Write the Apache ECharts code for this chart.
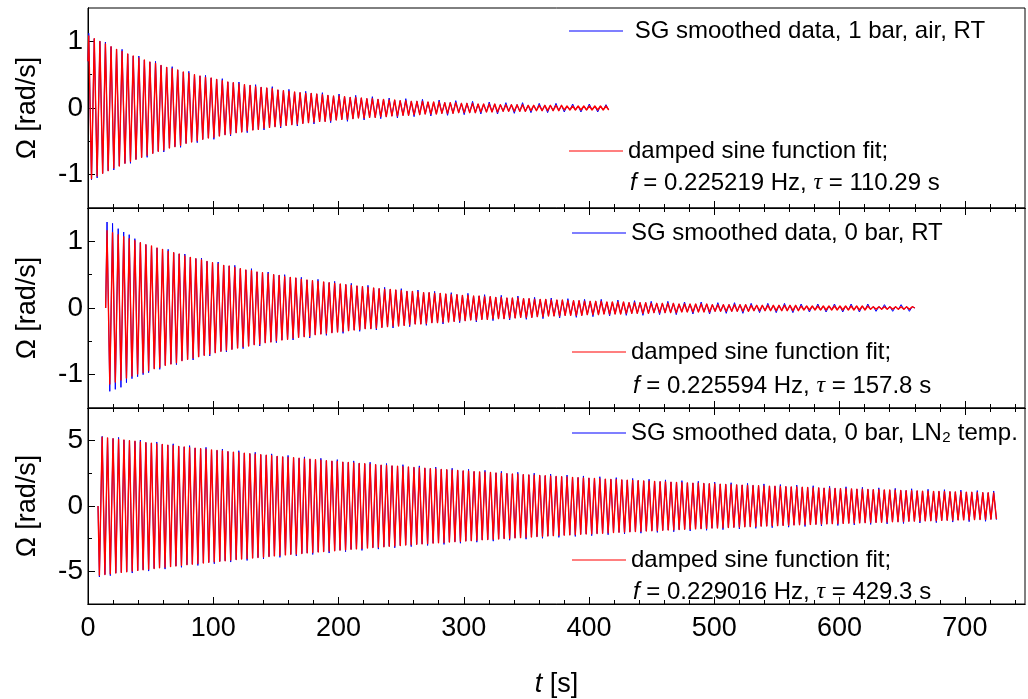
<!DOCTYPE html>
<html>
<head>
<meta charset="utf-8">
<script src="https://cdn.jsdelivr.net/npm/echarts@6.0.0/dist/echarts.min.js"></script>
<style>
html, body { margin: 0; padding: 0; background: #fff; }
#chart-container { width: 1028px; height: 699px; }
</style>
</head>
<body>
<div id="chart-container"></div>
<script>
var dom = document.getElementById('chart-container');
var myChart = echarts.init(dom, null, {
  renderer: 'canvas',
  useDirtyRect: false,
});

var option;

// tick positions
const xMajor = [0, 100, 200, 300, 400, 500, 600, 700];
const xMinor = [20, 40, 60, 80, 120, 140, 160, 180, 220, 240, 260, 280, 320, 340, 360, 380,
  420, 440, 460, 480, 520, 540, 560, 580, 620, 640, 660, 680, 720, 740];
const yMajorRT = [-1, 0, 1];
const yMinorRT = [-0.5, 0.5];
const yMajorLN = [-5, 0, 5];
const yMinorLN = [-2.5, 2.5];

// panel 1: 1 bar, air, RT  (turning points of the oscillation, t in s)
const tAir = [0, 0.6, 2.8, 5.0, 7.3, 9.5, 11.7, 13.9, 16.1, 18.4, 20.6,
  22.8, 25.0, 27.2, 29.5, 31.7, 33.9, 36.1, 38.3, 40.6, 42.8,
  45.0, 47.2, 49.4, 51.7, 53.9, 56.1, 58.3, 60.5, 62.8, 65.0,
  67.2, 69.4, 71.6, 73.9, 76.1, 78.3, 80.5, 82.7, 85.0, 87.2,
  89.4, 91.6, 93.8, 96.1, 98.3, 100.5, 102.7, 104.9, 107.2, 109.4,
  111.6, 113.8, 116.0, 118.3, 120.5, 122.7, 124.9, 127.1, 129.4, 131.6,
  133.8, 136.0, 138.2, 140.5, 142.7, 144.9, 147.1, 149.3, 151.6, 153.8,
  156.0, 158.2, 160.4, 162.7, 164.9, 167.1, 169.3, 171.5, 173.8, 176.0,
  178.2, 180.4, 182.6, 184.9, 187.1, 189.3, 191.5, 193.7, 196.0, 198.2,
  200.4, 202.6, 204.8, 207.1, 209.3, 211.5, 213.7, 215.9, 218.2, 220.4,
  222.6, 224.8, 227.0, 229.3, 231.5, 233.7, 235.9, 238.1, 240.4, 242.6,
  244.8, 247.0, 249.2, 251.5, 253.7, 255.9, 258.1, 260.3, 262.6, 264.8,
  267.0, 269.2, 271.4, 273.7, 275.9, 278.1, 280.3, 282.5, 284.8, 287.0,
  289.2, 291.4, 293.6, 295.9, 298.1, 300.3, 302.5, 304.7, 307.0, 309.2,
  311.4, 313.6, 315.8, 318.1, 320.3, 322.5, 324.7, 326.9, 329.2, 331.4,
  333.6, 335.8, 338.0, 340.3, 342.5, 344.7, 346.9, 349.1, 351.4, 353.6,
  355.8, 358.0, 360.2, 362.5, 364.7, 366.9, 369.1, 371.3, 373.6, 375.8,
  378.0, 380.2, 382.4, 384.7, 386.9, 389.1, 391.3, 393.5, 395.8, 398.0,
  400.2, 402.4, 404.6, 406.9, 409.1, 411.3, 413.5, 415.7];
const fitAir = [0.70, 1.08, -1.06, 1.04, -1.02, 1.00, -0.98, 0.96, -0.94, 0.92, -0.90,
  0.88, -0.87, 0.85, -0.83, 0.81, -0.80, 0.78, -0.77, 0.75, -0.74,
  0.72, -0.71, 0.69, -0.68, 0.67, -0.65, 0.64, -0.63, 0.61, -0.60,
  0.59, -0.58, 0.57, -0.56, 0.54, -0.53, 0.52, -0.51, 0.50, -0.49,
  0.48, -0.47, 0.46, -0.45, 0.45, -0.44, 0.43, -0.42, 0.41, -0.40,
  0.39, -0.39, 0.38, -0.37, 0.36, -0.36, 0.35, -0.34, 0.34, -0.33,
  0.32, -0.32, 0.31, -0.30, 0.30, -0.29, 0.29, -0.28, 0.27, -0.27,
  0.26, -0.26, 0.25, -0.25, 0.24, -0.24, 0.23, -0.23, 0.22, -0.22,
  0.22, -0.21, 0.21, -0.20, 0.20, -0.20, 0.19, -0.19, 0.18, -0.18,
  0.18, -0.17, 0.17, -0.17, 0.16, -0.16, 0.16, -0.15, 0.15, -0.15,
  0.14, -0.14, 0.14, -0.14, 0.13, -0.13, 0.13, -0.13, 0.12, -0.12,
  0.12, -0.12, 0.11, -0.11, 0.11, -0.11, 0.10, -0.10, 0.10, -0.10,
  0.10, -0.09, 0.09, -0.09, 0.09, -0.09, 0.09, -0.08, 0.08, -0.08,
  0.08, -0.08, 0.08, -0.07, 0.07, -0.07, 0.07, -0.07, 0.07, -0.07,
  0.06, -0.06, 0.06, -0.06, 0.06, -0.06, 0.06, -0.06, 0.05, -0.05,
  0.05, -0.05, 0.05, -0.05, 0.05, -0.05, 0.05, -0.05, 0.04, -0.04,
  0.04, -0.04, 0.04, -0.04, 0.04, -0.04, 0.04, -0.04, 0.04, -0.04,
  0.04, -0.03, 0.03, -0.03, 0.03, -0.03, 0.03, -0.03, 0.03, -0.03,
  0.03, -0.03, 0.03, -0.03, 0.03, -0.03, 0.03, -0.03];
const dataAir = [0.70, 1.12, -1.08, 1.04, -1.05, 1.00, -0.98, 0.99, -0.94, 0.92, -0.93,
  0.88, -0.87, 0.88, -0.83, 0.81, -0.83, 0.78, -0.77, 0.78, -0.74,
  0.72, -0.74, 0.69, -0.68, 0.70, -0.65, 0.64, -0.66, 0.61, -0.60,
  0.62, -0.58, 0.57, -0.59, 0.54, -0.53, 0.55, -0.51, 0.50, -0.52,
  0.48, -0.47, 0.49, -0.45, 0.45, -0.47, 0.43, -0.42, 0.44, -0.40,
  0.39, -0.42, 0.38, -0.37, 0.39, -0.36, 0.35, -0.37, 0.34, -0.33,
  0.35, -0.32, 0.31, -0.33, 0.30, -0.29, 0.32, -0.28, 0.27, -0.30,
  0.26, -0.26, 0.28, -0.25, 0.24, -0.27, 0.23, -0.23, 0.25, -0.22,
  0.22, -0.24, 0.21, -0.20, 0.23, -0.20, 0.19, -0.22, 0.18, -0.18,
  0.21, -0.17, 0.17, -0.20, 0.16, -0.16, 0.19, -0.15, 0.15, -0.18,
  0.14, -0.14, 0.17, -0.14, 0.13, -0.16, 0.13, -0.13, 0.15, -0.12,
  0.12, -0.15, 0.11, -0.11, 0.14, -0.11, 0.10, -0.13, 0.10, -0.10,
  0.13, -0.09, 0.09, -0.12, 0.09, -0.09, 0.12, -0.08, 0.08, -0.11,
  0.08, -0.08, 0.11, -0.07, 0.07, -0.10, 0.07, -0.07, 0.10, -0.07,
  0.06, -0.09, 0.06, -0.06, 0.09, -0.06, 0.06, -0.09, 0.05, -0.05,
  0.08, -0.05, 0.05, -0.08, 0.05, -0.05, 0.08, -0.05, 0.04, -0.07,
  0.04, -0.04, 0.07, -0.04, 0.04, -0.07, 0.04, -0.04, 0.07, -0.04,
  0.04, -0.06, 0.03, -0.03, 0.06, -0.03, 0.03, -0.06, 0.03, -0.03,
  0.06, -0.03, 0.03, -0.06, 0.03, -0.03, 0.05, -0.03];

// panel 2: 0 bar, RT
const tVac = [14.1,
  15.2, 17.4, 19.6, 21.8, 24.1, 26.3, 28.5, 30.7, 32.9, 35.1,
  37.4, 39.6, 41.8, 44.0, 46.2, 48.4, 50.7, 52.9, 55.1, 57.3,
  59.5, 61.7, 64.0, 66.2, 68.4, 70.6, 72.8, 75.0, 77.3, 79.5,
  81.7, 83.9, 86.1, 88.3, 90.6, 92.8, 95.0, 97.2, 99.4, 101.6,
  103.9, 106.1, 108.3, 110.5, 112.7, 114.9, 117.2, 119.4, 121.6, 123.8,
  126.0, 128.2, 130.5, 132.7, 134.9, 137.1, 139.3, 141.5, 143.8, 146.0,
  148.2, 150.4, 152.6, 154.8, 157.0, 159.3, 161.5, 163.7, 165.9, 168.1,
  170.3, 172.6, 174.8, 177.0, 179.2, 181.4, 183.6, 185.9, 188.1, 190.3,
  192.5, 194.7, 196.9, 199.2, 201.4, 203.6, 205.8, 208.0, 210.2, 212.5,
  214.7, 216.9, 219.1, 221.3, 223.5, 225.8, 228.0, 230.2, 232.4, 234.6,
  236.8, 239.1, 241.3, 243.5, 245.7, 247.9, 250.1, 252.4, 254.6, 256.8,
  259.0, 261.2, 263.4, 265.7, 267.9, 270.1, 272.3, 274.5, 276.7, 279.0,
  281.2, 283.4, 285.6, 287.8, 290.0, 292.3, 294.5, 296.7, 298.9, 301.1,
  303.3, 305.5, 307.8, 310.0, 312.2, 314.4, 316.6, 318.8, 321.1, 323.3,
  325.5, 327.7, 329.9, 332.1, 334.4, 336.6, 338.8, 341.0, 343.2, 345.4,
  347.7, 349.9, 352.1, 354.3, 356.5, 358.7, 361.0, 363.2, 365.4, 367.6,
  369.8, 372.0, 374.3, 376.5, 378.7, 380.9, 383.1, 385.3, 387.6, 389.8,
  392.0, 394.2, 396.4, 398.6, 400.9, 403.1, 405.3, 407.5, 409.7, 411.9,
  414.2, 416.4, 418.6, 420.8, 423.0, 425.2, 427.5, 429.7, 431.9, 434.1,
  436.3, 438.5, 440.7, 443.0, 445.2, 447.4, 449.6, 451.8, 454.0, 456.3,
  458.5, 460.7, 462.9, 465.1, 467.3, 469.6, 471.8, 474.0, 476.2, 478.4,
  480.6, 482.9, 485.1, 487.3, 489.5, 491.7, 493.9, 496.2, 498.4, 500.6,
  502.8, 505.0, 507.2, 509.5, 511.7, 513.9, 516.1, 518.3, 520.5, 522.8,
  525.0, 527.2, 529.4, 531.6, 533.8, 536.1, 538.3, 540.5, 542.7, 544.9,
  547.1, 549.4, 551.6, 553.8, 556.0, 558.2, 560.4, 562.7, 564.9, 567.1,
  569.3, 571.5, 573.7, 575.9, 578.2, 580.4, 582.6, 584.8, 587.0, 589.2,
  591.5, 593.7, 595.9, 598.1, 600.3, 602.5, 604.8, 607.0, 609.2, 611.4,
  613.6, 615.8, 618.1, 620.3, 622.5, 624.7, 626.9, 629.1, 631.4, 633.6,
  635.8, 638.0, 640.2, 642.4, 644.7, 646.9, 649.1, 651.3, 653.5, 655.7,
  658.0, 660.1];
const fitVac = [0.00,
  1.16, -1.14, 1.13, -1.11, 1.10, -1.08, 1.07, -1.05, 1.04, -1.02,
  1.01, -0.99, 0.98, -0.97, 0.95, -0.94, 0.93, -0.91, 0.90, -0.89,
  0.88, -0.86, 0.85, -0.84, 0.83, -0.82, 0.81, -0.79, 0.78, -0.77,
  0.76, -0.75, 0.74, -0.73, 0.72, -0.71, 0.70, -0.69, 0.68, -0.67,
  0.66, -0.65, 0.64, -0.63, 0.63, -0.62, 0.61, -0.60, 0.59, -0.58,
  0.57, -0.57, 0.56, -0.55, 0.54, -0.54, 0.53, -0.52, 0.51, -0.51,
  0.50, -0.49, 0.49, -0.48, 0.47, -0.47, 0.46, -0.45, 0.45, -0.44,
  0.43, -0.43, 0.42, -0.42, 0.41, -0.40, 0.40, -0.39, 0.39, -0.38,
  0.38, -0.37, 0.37, -0.36, 0.36, -0.35, 0.35, -0.34, 0.34, -0.33,
  0.33, -0.32, 0.32, -0.31, 0.31, -0.31, 0.30, -0.30, 0.29, -0.29,
  0.28, -0.28, 0.28, -0.27, 0.27, -0.27, 0.26, -0.26, 0.25, -0.25,
  0.25, -0.24, 0.24, -0.24, 0.23, -0.23, 0.23, -0.22, 0.22, -0.22,
  0.22, -0.21, 0.21, -0.21, 0.20, -0.20, 0.20, -0.19, 0.19, -0.19,
  0.19, -0.18, 0.18, -0.18, 0.18, -0.17, 0.17, -0.17, 0.17, -0.16,
  0.16, -0.16, 0.16, -0.16, 0.15, -0.15, 0.15, -0.15, 0.15, -0.14,
  0.14, -0.14, 0.14, -0.14, 0.13, -0.13, 0.13, -0.13, 0.13, -0.12,
  0.12, -0.12, 0.12, -0.12, 0.12, -0.11, 0.11, -0.11, 0.11, -0.11,
  0.11, -0.11, 0.10, -0.10, 0.10, -0.10, 0.10, -0.10, 0.10, -0.09,
  0.09, -0.09, 0.09, -0.09, 0.09, -0.09, 0.09, -0.08, 0.08, -0.08,
  0.08, -0.08, 0.08, -0.08, 0.08, -0.08, 0.07, -0.07, 0.07, -0.07,
  0.07, -0.07, 0.07, -0.07, 0.07, -0.07, 0.06, -0.06, 0.06, -0.06,
  0.06, -0.06, 0.06, -0.06, 0.06, -0.06, 0.06, -0.06, 0.05, -0.05,
  0.05, -0.05, 0.05, -0.05, 0.05, -0.05, 0.05, -0.05, 0.05, -0.05,
  0.05, -0.05, 0.04, -0.04, 0.04, -0.04, 0.04, -0.04, 0.04, -0.04,
  0.04, -0.04, 0.04, -0.04, 0.04, -0.04, 0.04, -0.04, 0.04, -0.04,
  0.03, -0.03, 0.03, -0.03, 0.03, -0.03, 0.03, -0.03, 0.03, -0.03,
  0.03, -0.03, 0.03, -0.03, 0.03, -0.03, 0.03, -0.03, 0.03, -0.03,
  0.03, -0.03, 0.03, -0.03, 0.03, -0.02, 0.02, -0.02, 0.02, -0.02,
  0.02, -0.02, 0.02, -0.02, 0.02, -0.02, 0.02, -0.02, 0.02, -0.02,
  0.02, 0.00];
const dataVac = [0.00,
  1.29, -1.25, 1.27, -1.22, 1.19, -1.19, 1.14, -1.12, 1.10, -1.06,
  1.04, -1.03, 0.98, -1.00, 0.95, -0.97, 0.93, -0.91, 0.90, -0.92,
  0.88, -0.86, 0.88, -0.84, 0.83, -0.85, 0.81, -0.79, 0.81, -0.77,
  0.76, -0.78, 0.74, -0.73, 0.75, -0.71, 0.70, -0.72, 0.68, -0.67,
  0.69, -0.65, 0.64, -0.66, 0.63, -0.62, 0.64, -0.60, 0.59, -0.61,
  0.57, -0.57, 0.59, -0.55, 0.54, -0.57, 0.53, -0.52, 0.54, -0.51,
  0.50, -0.52, 0.49, -0.48, 0.50, -0.47, 0.46, -0.48, 0.45, -0.44,
  0.46, -0.43, 0.42, -0.45, 0.41, -0.40, 0.43, -0.39, 0.39, -0.41,
  0.38, -0.37, 0.40, -0.36, 0.36, -0.38, 0.35, -0.34, 0.37, -0.33,
  0.33, -0.35, 0.32, -0.31, 0.34, -0.31, 0.30, -0.33, 0.29, -0.29,
  0.31, -0.28, 0.28, -0.30, 0.27, -0.27, 0.29, -0.26, 0.25, -0.28,
  0.25, -0.24, 0.27, -0.24, 0.23, -0.26, 0.23, -0.22, 0.25, -0.22,
  0.22, -0.24, 0.21, -0.21, 0.23, -0.20, 0.20, -0.22, 0.19, -0.19,
  0.22, -0.18, 0.18, -0.21, 0.18, -0.17, 0.20, -0.17, 0.17, -0.19,
  0.16, -0.16, 0.19, -0.16, 0.15, -0.18, 0.15, -0.15, 0.18, -0.14,
  0.14, -0.17, 0.14, -0.14, 0.16, -0.13, 0.13, -0.16, 0.13, -0.12,
  0.15, -0.12, 0.12, -0.15, 0.12, -0.11, 0.14, -0.11, 0.11, -0.14,
  0.11, -0.11, 0.13, -0.10, 0.10, -0.13, 0.10, -0.10, 0.13, -0.09,
  0.09, -0.12, 0.09, -0.09, 0.12, -0.09, 0.09, -0.11, 0.08, -0.08,
  0.11, -0.08, 0.08, -0.11, 0.08, -0.08, 0.10, -0.07, 0.07, -0.10,
  0.07, -0.07, 0.10, -0.07, 0.07, -0.10, 0.06, -0.06, 0.09, -0.06,
  0.06, -0.09, 0.06, -0.06, 0.09, -0.06, 0.06, -0.09, 0.05, -0.05,
  0.08, -0.05, 0.05, -0.08, 0.05, -0.05, 0.08, -0.05, 0.05, -0.08,
  0.05, -0.05, 0.07, -0.04, 0.04, -0.07, 0.04, -0.04, 0.07, -0.04,
  0.04, -0.07, 0.04, -0.04, 0.07, -0.04, 0.04, -0.07, 0.04, -0.04,
  0.06, -0.03, 0.03, -0.06, 0.03, -0.03, 0.06, -0.03, 0.03, -0.06,
  0.03, -0.03, 0.06, -0.03, 0.03, -0.06, 0.03, -0.03, 0.06, -0.03,
  0.03, -0.06, 0.03, -0.03, 0.06, -0.02, 0.02, -0.05, 0.02, -0.02,
  0.05, -0.02, 0.02, -0.05, 0.02, -0.02, 0.05, -0.02, 0.02, -0.05,
  0.02, 0.00];

// panel 3: 0 bar, LN2 temperature
const tLN = [8.0,
  9.1, 11.3, 13.5, 15.6, 17.8, 20.0, 22.2, 24.4, 26.6, 28.7,
  30.9, 33.1, 35.3, 37.5, 39.7, 41.8, 44.0, 46.2, 48.4, 50.6,
  52.8, 54.9, 57.1, 59.3, 61.5, 63.7, 65.9, 68.0, 70.2, 72.4,
  74.6, 76.8, 79.0, 81.1, 83.3, 85.5, 87.7, 89.9, 92.1, 94.2,
  96.4, 98.6, 100.8, 103.0, 105.2, 107.3, 109.5, 111.7, 113.9, 116.1,
  118.3, 120.4, 122.6, 124.8, 127.0, 129.2, 131.4, 133.5, 135.7, 137.9,
  140.1, 142.3, 144.5, 146.6, 148.8, 151.0, 153.2, 155.4, 157.6, 159.7,
  161.9, 164.1, 166.3, 168.5, 170.7, 172.8, 175.0, 177.2, 179.4, 181.6,
  183.8, 185.9, 188.1, 190.3, 192.5, 194.7, 196.9, 199.0, 201.2, 203.4,
  205.6, 207.8, 210.0, 212.1, 214.3, 216.5, 218.7, 220.9, 223.1, 225.2,
  227.4, 229.6, 231.8, 234.0, 236.2, 238.3, 240.5, 242.7, 244.9, 247.1,
  249.3, 251.4, 253.6, 255.8, 258.0, 260.2, 262.4, 264.5, 266.7, 268.9,
  271.1, 273.3, 275.5, 277.6, 279.8, 282.0, 284.2, 286.4, 288.5, 290.7,
  292.9, 295.1, 297.3, 299.5, 301.6, 303.8, 306.0, 308.2, 310.4, 312.6,
  314.7, 316.9, 319.1, 321.3, 323.5, 325.7, 327.8, 330.0, 332.2, 334.4,
  336.6, 338.8, 340.9, 343.1, 345.3, 347.5, 349.7, 351.9, 354.0, 356.2,
  358.4, 360.6, 362.8, 365.0, 367.1, 369.3, 371.5, 373.7, 375.9, 378.1,
  380.2, 382.4, 384.6, 386.8, 389.0, 391.2, 393.3, 395.5, 397.7, 399.9,
  402.1, 404.3, 406.4, 408.6, 410.8, 413.0, 415.2, 417.4, 419.5, 421.7,
  423.9, 426.1, 428.3, 430.5, 432.6, 434.8, 437.0, 439.2, 441.4, 443.6,
  445.7, 447.9, 450.1, 452.3, 454.5, 456.7, 458.8, 461.0, 463.2, 465.4,
  467.6, 469.8, 471.9, 474.1, 476.3, 478.5, 480.7, 482.9, 485.0, 487.2,
  489.4, 491.6, 493.8, 496.0, 498.1, 500.3, 502.5, 504.7, 506.9, 509.1,
  511.2, 513.4, 515.6, 517.8, 520.0, 522.2, 524.3, 526.5, 528.7, 530.9,
  533.1, 535.3, 537.4, 539.6, 541.8, 544.0, 546.2, 548.4, 550.5, 552.7,
  554.9, 557.1, 559.3, 561.4, 563.6, 565.8, 568.0, 570.2, 572.4, 574.5,
  576.7, 578.9, 581.1, 583.3, 585.5, 587.6, 589.8, 592.0, 594.2, 596.4,
  598.6, 600.7, 602.9, 605.1, 607.3, 609.5, 611.7, 613.8, 616.0, 618.2,
  620.4, 622.6, 624.8, 626.9, 629.1, 631.3, 633.5, 635.7, 637.9, 640.0,
  642.2, 644.4, 646.6, 648.8, 651.0, 653.1, 655.3, 657.5, 659.7, 661.9,
  664.1, 666.2, 668.4, 670.6, 672.8, 675.0, 677.2, 679.3, 681.5, 683.7,
  685.9, 688.1, 690.3, 692.4, 694.6, 696.8, 699.0, 701.2, 703.4, 705.5,
  707.7, 709.9, 712.1, 714.3, 716.5, 718.6, 720.8, 723.0, 725.2];
const fitLN = [0.00,
  -5.29, 5.26, -5.24, 5.21, -5.18, 5.16, -5.13, 5.10, -5.08, 5.05,
  -5.03, 5.00, -4.98, 4.95, -4.93, 4.90, -4.88, 4.85, -4.83, 4.80,
  -4.78, 4.75, -4.73, 4.71, -4.68, 4.66, -4.63, 4.61, -4.59, 4.56,
  -4.54, 4.52, -4.49, 4.47, -4.45, 4.43, -4.40, 4.38, -4.36, 4.34,
  -4.31, 4.29, -4.27, 4.25, -4.23, 4.21, -4.19, 4.16, -4.14, 4.12,
  -4.10, 4.08, -4.06, 4.04, -4.02, 4.00, -3.98, 3.96, -3.94, 3.92,
  -3.90, 3.88, -3.86, 3.84, -3.82, 3.80, -3.78, 3.76, -3.74, 3.72,
  -3.70, 3.69, -3.67, 3.65, -3.63, 3.61, -3.59, 3.58, -3.56, 3.54,
  -3.52, 3.50, -3.49, 3.47, -3.45, 3.43, -3.42, 3.40, -3.38, 3.36,
  -3.35, 3.33, -3.31, 3.30, -3.28, 3.26, -3.25, 3.23, -3.21, 3.20,
  -3.18, 3.16, -3.15, 3.13, -3.12, 3.10, -3.08, 3.07, -3.05, 3.04,
  -3.02, 3.01, -2.99, 2.98, -2.96, 2.95, -2.93, 2.92, -2.90, 2.89,
  -2.87, 2.86, -2.84, 2.83, -2.82, 2.80, -2.79, 2.77, -2.76, 2.74,
  -2.73, 2.72, -2.70, 2.69, -2.68, 2.66, -2.65, 2.63, -2.62, 2.61,
  -2.59, 2.58, -2.57, 2.56, -2.54, 2.53, -2.52, 2.50, -2.49, 2.48,
  -2.47, 2.45, -2.44, 2.43, -2.42, 2.40, -2.39, 2.38, -2.37, 2.36,
  -2.34, 2.33, -2.32, 2.31, -2.30, 2.29, -2.27, 2.26, -2.25, 2.24,
  -2.23, 2.22, -2.21, 2.19, -2.18, 2.17, -2.16, 2.15, -2.14, 2.13,
  -2.12, 2.11, -2.10, 2.09, -2.08, 2.06, -2.05, 2.04, -2.03, 2.02,
  -2.01, 2.00, -1.99, 1.98, -1.97, 1.96, -1.95, 1.94, -1.93, 1.92,
  -1.91, 1.90, -1.89, 1.88, -1.87, 1.86, -1.86, 1.85, -1.84, 1.83,
  -1.82, 1.81, -1.80, 1.79, -1.78, 1.77, -1.76, 1.75, -1.75, 1.74,
  -1.73, 1.72, -1.71, 1.70, -1.69, 1.68, -1.68, 1.67, -1.66, 1.65,
  -1.64, 1.63, -1.63, 1.62, -1.61, 1.60, -1.59, 1.58, -1.58, 1.57,
  -1.56, 1.55, -1.54, 1.54, -1.53, 1.52, -1.51, 1.51, -1.50, 1.49,
  -1.48, 1.48, -1.47, 1.46, -1.45, 1.45, -1.44, 1.43, -1.42, 1.42,
  -1.41, 1.40, -1.40, 1.39, -1.38, 1.37, -1.37, 1.36, -1.35, 1.35,
  -1.34, 1.33, -1.33, 1.32, -1.31, 1.31, -1.30, 1.29, -1.29, 1.28,
  -1.27, 1.27, -1.26, 1.25, -1.25, 1.24, -1.24, 1.23, -1.22, 1.22,
  -1.21, 1.20, -1.20, 1.19, -1.19, 1.18, -1.17, 1.17, -1.16, 1.16,
  -1.15, 1.14, -1.14, 1.13, -1.13, 1.12, -1.12, 1.11, -1.10, 1.10,
  -1.09, 1.09, -1.08, 1.08, -1.07, 1.07, -1.06, 1.06, -1.05, 1.05,
  -1.04, 1.03, -1.03, 1.02, -1.02, 1.01, -1.01, 1.00, -1.00];
const dataLN = [0.00,
  -5.43, 5.33, -5.24, 5.21, -5.33, 5.16, -5.13, 5.25, -5.08, 5.05,
  -5.03, 5.00, -5.13, 4.95, -4.93, 5.05, -4.88, 4.85, -4.98, 4.80,
  -4.78, 4.90, -4.73, 4.71, -4.83, 4.66, -4.63, 4.76, -4.59, 4.56,
  -4.69, 4.52, -4.49, 4.62, -4.45, 4.43, -4.55, 4.38, -4.36, 4.49,
  -4.31, 4.29, -4.42, 4.25, -4.23, 4.36, -4.19, 4.16, -4.29, 4.12,
  -4.10, 4.23, -4.06, 4.04, -4.17, 4.00, -3.98, 4.11, -3.94, 3.92,
  -4.05, 3.88, -3.86, 3.99, -3.82, 3.80, -3.93, 3.76, -3.74, 3.87,
  -3.70, 3.69, -3.82, 3.65, -3.63, 3.76, -3.59, 3.58, -3.71, 3.54,
  -3.52, 3.65, -3.49, 3.47, -3.60, 3.43, -3.42, 3.55, -3.38, 3.36,
  -3.50, 3.33, -3.31, 3.45, -3.28, 3.26, -3.40, 3.23, -3.21, 3.35,
  -3.18, 3.16, -3.30, 3.13, -3.12, 3.25, -3.08, 3.07, -3.20, 3.04,
  -3.02, 3.16, -2.99, 2.98, -3.11, 2.95, -2.93, 3.07, -2.90, 2.89,
  -3.02, 2.86, -2.84, 2.98, -2.82, 2.80, -2.94, 2.77, -2.76, 2.89,
  -2.73, 2.72, -2.85, 2.69, -2.68, 2.81, -2.65, 2.63, -2.77, 2.61,
  -2.59, 2.73, -2.57, 2.56, -2.69, 2.53, -2.52, 2.65, -2.49, 2.48,
  -2.62, 2.45, -2.44, 2.58, -2.42, 2.40, -2.54, 2.38, -2.37, 2.51,
  -2.34, 2.33, -2.47, 2.31, -2.30, 2.44, -2.27, 2.26, -2.40, 2.24,
  -2.23, 2.37, -2.21, 2.19, -2.33, 2.17, -2.16, 2.30, -2.14, 2.13,
  -2.27, 2.11, -2.10, 2.24, -2.08, 2.06, -2.20, 2.04, -2.03, 2.17,
  -2.01, 2.00, -2.14, 1.98, -1.97, 2.11, -1.95, 1.94, -2.08, 1.92,
  -1.91, 2.05, -1.89, 1.88, -2.02, 1.86, -1.86, 2.00, -1.84, 1.83,
  -1.97, 1.81, -1.80, 1.94, -1.78, 1.77, -1.91, 1.75, -1.75, 1.89,
  -1.73, 1.72, -1.86, 1.70, -1.69, 1.83, -1.68, 1.67, -1.81, 1.65,
  -1.64, 1.78, -1.63, 1.62, -1.76, 1.60, -1.59, 1.73, -1.58, 1.57,
  -1.71, 1.55, -1.54, 1.69, -1.53, 1.52, -1.66, 1.51, -1.50, 1.64,
  -1.48, 1.48, -1.62, 1.46, -1.45, 1.60, -1.44, 1.43, -1.57, 1.42,
  -1.41, 1.55, -1.40, 1.39, -1.53, 1.37, -1.37, 1.51, -1.35, 1.35,
  -1.49, 1.33, -1.33, 1.47, -1.31, 1.31, -1.45, 1.29, -1.29, 1.43,
  -1.27, 1.27, -1.41, 1.25, -1.25, 1.39, -1.24, 1.23, -1.37, 1.22,
  -1.21, 1.35, -1.20, 1.19, -1.34, 1.18, -1.17, 1.32, -1.16, 1.16,
  -1.30, 1.14, -1.14, 1.28, -1.13, 1.12, -1.27, 1.11, -1.10, 1.25,
  -1.09, 1.09, -1.23, 1.08, -1.07, 1.22, -1.06, 1.06, -1.20, 1.05,
  -1.04, 1.18, -1.03, 1.02, -1.17, 1.01, -1.01, 1.15, -1.05];

const BLUE = '#0000ff';
const RED = '#ff0000';
const FONT = 'Liberation Sans';
const X_MAX = 748;

function pairs(t, v) {
  return t.map(function (x, i) { return [x, v[i]]; }).filter(function (p) { return p[1] !== undefined; });
}

function xAxisFor(grid, pos, ticks, len, labelled) {
  var ax = {
    type: 'value',
    gridIndex: grid,
    position: pos,
    min: 0,
    max: X_MAX,
    axisLine: { show: true, onZero: false, lineStyle: { color: '#000', width: 1 } },
    axisTick: { show: true, inside: true, length: len, customValues: ticks, lineStyle: { color: '#000', width: 1 } },
    axisLabel: { show: false },
    splitLine: { show: false },
  };
  if (labelled) {
    ax.axisLabel = { show: true, customValues: xMajor, fontSize: 27, color: '#000', margin: 11, fontFamily: FONT };
    ax.name = '{i|t} [s]';
    ax.nameLocation = 'middle';
    ax.nameGap = 67;
    ax.nameTextStyle = {
      fontSize: 27, color: '#000', fontFamily: FONT,
      rich: { i: { fontStyle: 'italic', fontSize: 27, color: '#000', fontFamily: FONT } },
    };
  }
  return ax;
}

function yAxisFor(grid, lim, ticks, len, labels) {
  var ax = {
    type: 'value',
    gridIndex: grid,
    position: 'left',
    min: -lim,
    max: lim,
    axisLine: { show: true, onZero: false, lineStyle: { color: '#000', width: 1 } },
    axisTick: { show: true, inside: true, length: len, customValues: ticks, lineStyle: { color: '#000', width: 1 } },
    axisLabel: { show: false },
    splitLine: { show: false },
  };
  if (labels) {
    ax.axisLabel = { show: true, customValues: labels, fontSize: 28, color: '#000', margin: 5, fontFamily: FONT };
    ax.name = 'Ω [rad/s]';
    ax.nameLocation = 'middle';
    ax.nameGap = 47;
    ax.nameTextStyle = { fontSize: 27, color: '#000', fontFamily: FONT };
  }
  return ax;
}

function lineSeries(name, xi, yi, t, v, color, width) {
  return {
    name: name,
    type: 'line',
    xAxisIndex: xi,
    yAxisIndex: yi,
    data: pairs(t, v),
    symbol: 'none',
    showSymbol: false,
    silent: true,
    lineStyle: { color: color, width: width, join: 'round' },
    itemStyle: { color: color },
  };
}

function legendFor(name, label, left, top) {
  return {
    data: [name],
    left: left,
    top: top,
    padding: 0,
    itemGap: 0,
    itemWidth: 54,
    itemHeight: 1,
    icon: 'rect',
    selectedMode: false,
    formatter: function () { return label; },
    textStyle: { fontSize: 24, color: '#000', fontFamily: FONT, lineHeight: 24 },
  };
}

function fitNote(text, left, top) {
  return {
    text: text,
    left: left,
    top: top,
    padding: 0,
    textStyle: {
      fontSize: 24, fontWeight: 'normal', color: '#000', fontFamily: FONT, lineHeight: 24,
      rich: {
        i: { fontStyle: 'italic', fontSize: 24, fontWeight: 'normal', color: '#000', fontFamily: FONT },
        g: { fontStyle: 'italic', fontSize: 24, fontWeight: 'normal', color: '#000', fontFamily: 'Liberation Serif' },
      },
    },
  };
}

var gridBase = { left: 88, width: 937, show: true, borderColor: '#000', borderWidth: 1, backgroundColor: 'transparent' };

option = {
  animation: false,
  backgroundColor: '#fff',
  textStyle: { fontFamily: FONT },
  grid: [
    Object.assign({ top: 8, height: 200 }, gridBase),
    Object.assign({ top: 208, height: 200 }, gridBase),
    Object.assign({ top: 408, height: 201 }, gridBase),
  ],
  xAxis: [
    xAxisFor(0, 'bottom', xMajor, 7, false),
    xAxisFor(0, 'bottom', xMinor, 4, false),
    xAxisFor(1, 'bottom', xMajor, 7, false),
    xAxisFor(1, 'bottom', xMinor, 4, false),
    xAxisFor(1, 'top', xMajor, 7, false),
    xAxisFor(1, 'top', xMinor, 4, false),
    xAxisFor(2, 'bottom', xMajor, 7, true),
    xAxisFor(2, 'bottom', xMinor, 4, false),
    xAxisFor(2, 'top', xMajor, 7, false),
    xAxisFor(2, 'top', xMinor, 4, false),
  ],
  yAxis: [
    yAxisFor(0, 1.5, yMajorRT, 7, yMajorRT),
    yAxisFor(0, 1.5, yMinorRT, 4, null),
    yAxisFor(1, 1.5, yMajorRT, 7, yMajorRT),
    yAxisFor(1, 1.5, yMinorRT, 4, null),
    yAxisFor(2, 7.5, yMajorLN, 7, yMajorLN),
    yAxisFor(2, 7.5, yMinorLN, 4, null),
  ],
  legend: [
    legendFor('data1', ' SG smoothed data, 1 bar, air, RT', 569, 19),
    legendFor('fit1', 'damped sine function fit;', 569, 139),
    legendFor('data2', 'SG smoothed data, 0 bar, RT', 572, 221),
    legendFor('fit2', 'damped sine function fit;', 572, 340),
    legendFor('data3', 'SG smoothed data, 0 bar, LN₂ temp.', 572, 421),
    legendFor('fit3', 'damped sine function fit;', 572, 548),
  ],
  title: [
    fitNote('{i|f} = 0.225219 Hz, {g|τ} = 110.29 s', 630, 171),
    fitNote('{i|f} = 0.225594 Hz, {g|τ} = 157.8 s', 633, 374),
    fitNote('{i|f} = 0.229016 Hz, {g|τ} = 429.3 s', 633, 580),
  ],
  series: [
    lineSeries('data1', 0, 0, tAir, dataAir, BLUE, 1),
    lineSeries('fit1', 0, 0, tAir, fitAir, RED, 1.4),
    lineSeries('data2', 2, 2, tVac, dataVac, BLUE, 1),
    lineSeries('fit2', 2, 2, tVac, fitVac, RED, 1.4),
    lineSeries('data3', 6, 4, tLN, dataLN, BLUE, 1),
    lineSeries('fit3', 6, 4, tLN, fitLN, RED, 1.4),
  ],
};

if (option && typeof option === 'object') {
  myChart.setOption(option);
}

window.addEventListener('resize', myChart.resize);
</script>
</body>
</html>
